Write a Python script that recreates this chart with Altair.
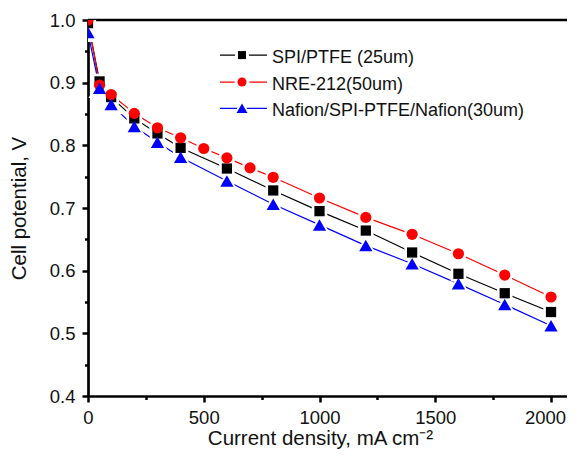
import altair as alt
import pandas as pd

# ---------------- data ----------------
series_names = ["SPI/PTFE (25um)", "NRE-212(50um)", "Nafion/SPI-PTFE/Nafion(30um)"]

spi_x = [0, 50, 100, 200, 300, 400, 600, 800, 1000, 1200, 1400, 1600, 1800, 2000]
spi_v = [0.995, 0.902, 0.877, 0.843, 0.819, 0.796, 0.763, 0.728, 0.695, 0.664, 0.629, 0.595, 0.564, 0.534]

nre_x = [0, 50, 100, 200, 300, 400, 500, 600, 700, 800, 1000, 1200, 1400, 1600, 1800, 2000]
nre_v = [1.0, 0.896, 0.881, 0.851, 0.828, 0.812, 0.795, 0.780, 0.764, 0.749, 0.716, 0.685, 0.658, 0.627, 0.593, 0.558]

naf_x = [0, 50, 100, 200, 300, 400, 600, 800, 1000, 1200, 1400, 1600, 1800, 2000]
naf_v = [0.980, 0.891, 0.865, 0.830, 0.805, 0.781, 0.743, 0.706, 0.673, 0.640, 0.611, 0.579, 0.546, 0.512]

x_ticks = [0, 250, 500, 750, 1000, 1250, 1500, 1750, 2000]
y_ticks = [0.4, 0.45, 0.5, 0.55, 0.6, 0.65, 0.7, 0.75, 0.8, 0.85, 0.9, 0.95, 1.0]

# ---------------- styles / layout ----------------
FONT = "Liberation Sans"
colors = ["#000000", "#ff0000", "#0000ff"]
shapes = ["square", "circle", "triangle-up"]
plot_sizes = [105, 125, 175]
halo_sizes = [240, 270, 490]
legend_sizes = [64, 81, 121]
legend_halo = [196, 225, 400]
legend_rows_v = [0.944, 0.901, 0.859]   # legend rows placed on the V scale

W, H = 479, 376
XMAX = 2069

xs = alt.Scale(domain=[0, XMAX], nice=False, zero=False)
ys = alt.Scale(domain=[0.4, 1.0], nice=False, zero=False)

major_y = "abs(datum.value*10 - round(datum.value*10)) < 0.001"
major_x = "datum.value % 500 === 0"

x_axis = alt.Axis(
    values=x_ticks, format="d",
    labelExpr=f"{major_x} ? datum.label : ''",
    labelOffset={"condition": {"test": "datum.value === 2000", "value": -6}, "value": 0},
    tickSize={"condition": {"test": major_x, "value": 6}, "value": 3.5},
    tickWidth=2.5, tickColor="black", domainWidth=2.7, domainColor="black",
    labelFont=FONT, labelFontSize=18.5, labelColor="#111", labelPadding=6,
    labelFlush=False, labelOverlap=False, grid=False,
    title="Current density, mA cm\u207b\u00b2", titleFont=FONT, titleFontSize=20.5,
    titleFontWeight="normal", titleColor="#111",
    titleX=232, titleY=48, titleAlign="center", titleBaseline="alphabetic",
)
y_axis = alt.Axis(
    values=y_ticks,
    labelExpr=f"{major_y} ? format(datum.value, '.1f') : ''",
    tickSize={"condition": {"test": major_y, "value": 6}, "value": 3.5},
    tickWidth=2.5, tickColor="black", domainWidth=2.7, domainColor="black",
    labelFont=FONT, labelFontSize=18.5, labelColor="#111", labelPadding=7,
    labelFlush=False, labelOverlap=False, grid=False,
    title="Cell potential, V", titleFont=FONT, titleFontSize=20.5,
    titleFontWeight="normal", titleColor="#111",
    titleX=-63, titleY=H / 2, titleAlign="center", titleBaseline="alphabetic", titleAngle=-90,
)

frames = []
for name, xv, vv in zip(series_names, [spi_x, nre_x, naf_x], [spi_v, nre_v, naf_v]):
    frames.append(pd.DataFrame({"name": name, "x": xv, "v": vv}))

legend_df = pd.DataFrame({"name": series_names, "ly": legend_rows_v})

X = alt.X("x:Q", scale=xs, axis=x_axis)
Y = alt.Y("v:Q", scale=ys, axis=y_axis)
LY = alt.Y("ly:Q", scale=ys, axis=y_axis)

layers = []
# top frame line
layers.append(
    alt.Chart(pd.DataFrame({"a": [0]})).mark_rule(color="black", strokeWidth=2.7).encode(
        x=alt.value(0), x2=alt.value(W), y=alt.value(0)
    )
)

# lines
for i, df in enumerate(frames):
    layers.append(
        alt.Chart(df).mark_line(color=colors[i], strokeWidth=1.2, clip=True).encode(x=X, y=Y)
    )
# white halos (gaps in lines around symbols)
for i, df in enumerate(frames):
    layers.append(
        alt.Chart(df).mark_point(
            filled=True, shape=shapes[i], size=halo_sizes[i], fill="white",
            opacity=1, strokeWidth=0, clip=True
        ).encode(x=X, y=Y)
    )
# symbols
for i, df in enumerate(frames):
    layers.append(
        alt.Chart(df).mark_point(
            filled=True, shape=shapes[i], size=plot_sizes[i], fill=colors[i],
            opacity=1, strokeWidth=0, clip=True
        ).encode(x=X, y=Y)
    )

# legend
for i in range(3):
    ldf = legend_df.iloc[[i]]
    layers.append(
        alt.Chart(ldf).mark_rule(color=colors[i], strokeWidth=1.2).encode(
            x=alt.value(132), x2=alt.value(179), y=LY
        )
    )
    layers.append(
        alt.Chart(ldf).mark_point(
            filled=True, shape=shapes[i], size=legend_halo[i], fill="white",
            opacity=1, strokeWidth=0
        ).encode(x=alt.value(154), y=LY)
    )
    layers.append(
        alt.Chart(ldf).mark_point(
            filled=True, shape=shapes[i], size=legend_sizes[i], fill=colors[i],
            opacity=1, strokeWidth=0
        ).encode(x=alt.value(154), y=LY)
    )
    layers.append(
        alt.Chart(ldf).mark_text(
            align="left", baseline="alphabetic", dy=7.5, font=FONT, fontSize=18, color="#111"
        ).encode(x=alt.value(184), y=LY, text="name:N")
    )

chart = alt.layer(*layers).properties(
    width=W, height=H,
    autosize=alt.AutoSizeParams(type="none"),
    padding={"left": 80, "top": 12, "right": 0, "bottom": 55},
    background="white",
).configure_view(strokeWidth=0)

chart.save("out.html", embed_options={"renderer": "svg", "actions": False})
